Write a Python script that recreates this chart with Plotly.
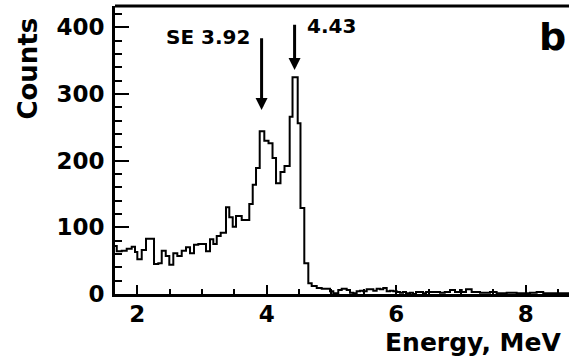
import plotly.graph_objects as go

# Histogram: left edges of steps (MeV) and counts
bin_lo = [1.655, 1.682, 1.759, 1.836, 1.913, 1.964, 2.000, 2.068, 2.134, 2.258,
          2.324, 2.377, 2.439, 2.494, 2.556, 2.618, 2.686, 2.752, 2.814, 2.876,
          2.942, 3.061, 3.123, 3.174, 3.227, 3.288, 3.370, 3.421, 3.474, 3.525,
          3.613, 3.730, 3.783, 3.834, 3.891, 3.962, 4.027, 4.089, 4.143, 4.212,
          4.274, 4.354, 4.398, 4.478, 4.521, 4.580, 4.642, 4.694, 4.772, 4.849,
          4.977, 5.028, 5.105, 5.158, 5.235, 5.286, 5.337, 5.389, 5.441, 5.491,
          5.544, 5.646, 5.698, 5.750, 5.800, 5.853, 5.904, 5.955, 6.007, 6.058,
          6.105, 6.151, 6.213, 6.259, 6.306, 6.414, 6.460, 6.522, 6.677, 6.750,
          6.831, 6.909, 6.986, 7.012, 7.079, 7.166, 7.295, 7.449, 7.552, 7.707,
          7.861, 8.067, 8.170, 8.272, 8.479]
last_edge = 8.75
counts = [72, 64, 65, 68, 71, 63, 52, 66, 83, 45,
          46, 65, 57, 44, 61, 57, 65, 70, 61, 74,
          75, 64, 82, 75, 87, 92, 130, 115, 101, 117,
          111, 135, 164, 189, 244, 230, 226, 204, 166, 183,
          192, 266, 325, 256, 129, 46, 16, 12, 9, 8,
          4, 1, 6, 8, 6, 2, 1, 4, 5, 4,
          7, 5, 8, 7, 9, 4, 5, 4, 3, 2,
          3, 1, 2, 0, 3, 1, 3, 3, 2, 3,
          6, 3, 6, 3, 7, 3, 2, 3, 1, 2,
          1, 2, 3, 1, 1]
assert len(bin_lo) == len(counts)

# Arrow markers: energy, arrow tip, arrow tail (counts)
arrow_energy = [3.92, 4.43]
arrow_tip = [276, 336]
arrow_tail = [386, 406]

x_range = [1.655, 8.67]
y_range = [0, 432]
y_ticks = [0, 100, 200, 300, 400]
x_ticks = [2, 4, 6, 8]

FONT = "DejaVu Sans"

fig = go.Figure()
fig.add_trace(go.Scatter(
    x=bin_lo + [last_edge],
    y=counts + [counts[-1]],
    mode="lines",
    line=dict(shape="hv", color="black", width=2),
    showlegend=False,
    hoverinfo="skip",
))

fig.update_layout(
    width=569, height=361,
    margin=dict(l=115, r=0, t=6, b=67, pad=0),
    plot_bgcolor="white", paper_bgcolor="white",
    showlegend=False,
)

fig.update_xaxes(
    range=x_range, tickmode="array", tickvals=x_ticks,
    ticktext=[str(v) for v in x_ticks],
    ticks="inside", ticklen=9, tickwidth=1.5, tickcolor="black",
    showline=True, linecolor="black", linewidth=3, mirror=False,
    showgrid=False, zeroline=False,
    minor=dict(ticks="inside", ticklen=5, dtick=0.5, tick0=0,
               tickcolor="black", tickwidth=1.5, showgrid=False),
    tickfont=dict(family=FONT, size=23, color="black", weight="bold"),
    ticklabelstandoff=-3,
)
fig.update_yaxes(
    range=y_range, tickmode="array", tickvals=y_ticks,
    ticktext=[str(v) for v in y_ticks],
    ticks="inside", ticklen=14, tickwidth=1.5, tickcolor="black",
    showline=True, linecolor="black", linewidth=3, mirror=False,
    showgrid=False, zeroline=False,
    minor=dict(ticks="inside", ticklen=7, dtick=20, tick0=0,
               tickcolor="black", tickwidth=1.5, showgrid=False),
    tickfont=dict(family=FONT, size=23, color="black", weight="bold"),
    ticklabelstandoff=3,
)

# top frame line
fig.add_shape(type="line", xref="paper", yref="paper", x0=0, x1=1, y0=1, y1=1,
              line=dict(color="black", width=3))

# axis titles
fig.add_annotation(text="Energy, MeV", xref="paper", yref="paper",
                   x=0.59, y=-0.17, xanchor="left", yanchor="middle",
                   showarrow=False,
                   font=dict(family=FONT, size=25, color="black", weight="bold"))
fig.add_annotation(text="Counts", xref="paper", yref="paper",
                   x=-0.1905, y=0.781, xanchor="center", yanchor="middle",
                   textangle=-90, showarrow=False,
                   font=dict(family=FONT, size=26, color="black", weight="bold"))

# panel letter
fig.add_annotation(text="b", xref="paper", yref="paper",
                   x=0.997, y=0.891, xanchor="right", yanchor="middle",
                   showarrow=False,
                   font=dict(family=FONT, size=38, color="black", weight="bold"))

# arrow labels
fig.add_annotation(text="SE 3.92", xref="x", yref="y", x=3.085, y=386,
                   xanchor="center", yanchor="middle", showarrow=False,
                   font=dict(family=FONT, size=20, color="black", weight="bold"))
fig.add_annotation(text="4.43", xref="x", yref="y", x=4.59, y=402,
                   xanchor="left", yanchor="middle", showarrow=False,
                   font=dict(family=FONT, size=20, color="black", weight="bold"))

for e, tip, tail in zip(arrow_energy, arrow_tip, arrow_tail):
    fig.add_annotation(text="", x=e, y=tip, xref="x", yref="y",
                       ax=e, ay=tail, axref="x", ayref="y",
                       showarrow=True, arrowhead=2, arrowsize=0.8,
                       arrowwidth=3, arrowcolor="black")

fig.write_html(
    "out.html",
    config={"displayModeBar": False},
    post_script="document.body.style.margin='0';document.body.style.overflow='hidden';",
)
